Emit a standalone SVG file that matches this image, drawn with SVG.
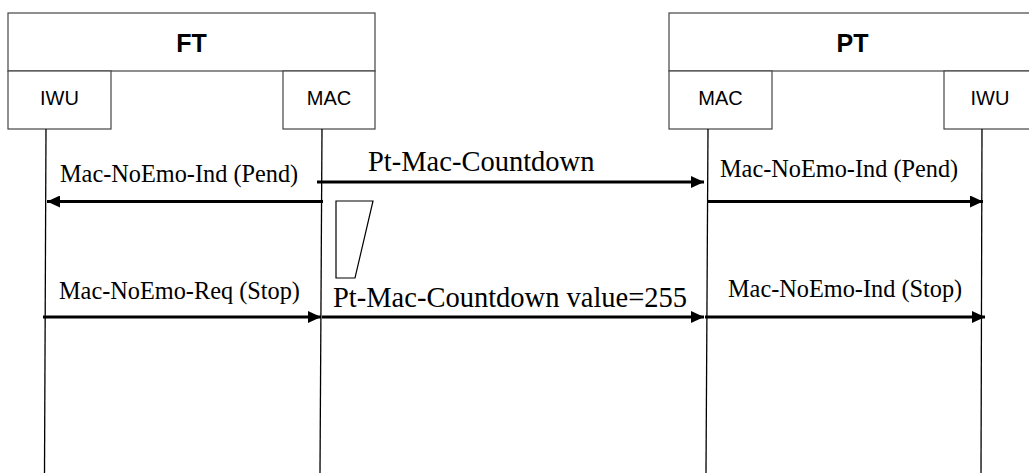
<svg xmlns="http://www.w3.org/2000/svg" width="1029" height="473" viewBox="0 0 1029 473">
<style>
.box{fill:#fff;stroke:#444;stroke-width:1.2}
.title{font-family:"Liberation Sans",Arial,sans-serif;font-weight:bold;font-size:25px;text-anchor:middle;fill:#000}
.sub{font-family:"Liberation Sans",Arial,sans-serif;font-size:20px;text-anchor:middle;fill:#000}
.life{stroke:#000;stroke-width:1.3;fill:none}
.msg{stroke:#000;stroke-width:3;fill:none;marker-end:url(#ah)}
.lbl{font-family:"Liberation Serif","Times New Roman",serif;font-size:24.3px;fill:#000}
.big{font-family:"Liberation Serif","Times New Roman",serif;font-size:28.5px;fill:#000}
</style>
<defs>
<marker id="ah" viewBox="0 0 13 12" refX="13" refY="6" markerWidth="13" markerHeight="12" markerUnits="userSpaceOnUse" orient="auto">
<path d="M0,0 L13,6 L0,12 z" fill="#000"/>
</marker>
</defs>
<rect width="1029" height="473" fill="#fff"/>
<g id="FT">
<rect class="box" x="8" y="13" width="367" height="58"/>
<text class="title" x="191.5" y="52">FT</text>
</g>
<g id="FT-IWU">
<rect class="box" x="8" y="71" width="103" height="58"/>
<text class="sub" x="59.5" y="105">IWU</text>
<line class="life" x1="46" y1="129" x2="44.5" y2="473"/>
</g>
<g id="FT-MAC">
<rect class="box" x="283" y="71" width="92" height="58"/>
<text class="sub" x="329" y="105">MAC</text>
<line class="life" x1="322" y1="129" x2="320" y2="473"/>
</g>
<g id="PT">
<rect class="box" x="669" y="13" width="367" height="58"/>
<text class="title" x="852.5" y="52">PT</text>
</g>
<g id="PT-MAC">
<rect class="box" x="669" y="71" width="103" height="58"/>
<text class="sub" x="720.5" y="105">MAC</text>
<line class="life" x1="708" y1="129" x2="706" y2="473"/>
</g>
<g id="PT-IWU">
<rect class="box" x="944" y="71" width="92" height="58"/>
<text class="sub" x="990" y="105">IWU</text>
<line class="life" x1="982" y1="129" x2="981" y2="473"/>
</g>
<g id="timer">
<polygon points="336,201 373,201 355,278 336,278" fill="#fff" stroke="#000" stroke-width="1.2"/>
</g>
<g id="connectors">
<line class="msg" x1="317" y1="182" x2="704" y2="182"/>
<text class="big" x="368" y="171">Pt-Mac-Countdown</text>
<line class="msg" x1="323" y1="201.5" x2="47" y2="201.5"/>
<text class="lbl" x="60" y="182">Mac-NoEmo-Ind (Pend)</text>
<line class="msg" x1="708" y1="201.5" x2="983" y2="201.5"/>
<text class="lbl" x="720" y="177">Mac-NoEmo-Ind (Pend)</text>
<line class="msg" x1="43" y1="317" x2="321" y2="317"/>
<text class="lbl" x="59" y="299">Mac-NoEmo-Req (Stop)</text>
<line class="msg" x1="322" y1="317" x2="704" y2="317"/>
<text class="big" x="333" y="307">Pt-Mac-Countdown value=255</text>
<line class="msg" x1="705" y1="317" x2="985" y2="317"/>
<text class="lbl" x="728" y="297">Mac-NoEmo-Ind (Stop)</text>
</g>
</svg>
